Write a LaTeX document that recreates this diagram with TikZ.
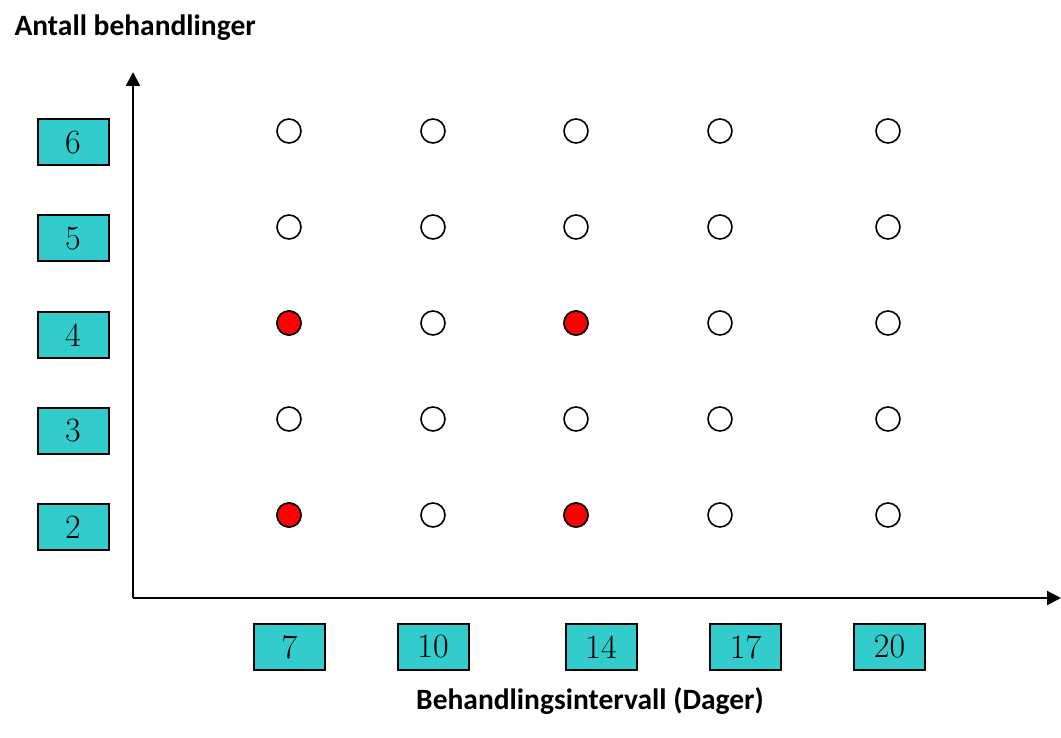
\documentclass[tikz,border=0pt]{standalone}
\usepackage{fontspec}
\setmainfont{Latin Modern Roman}
\newfontfamily\titlefont{Carlito}
\usetikzlibrary{arrows.meta}
\definecolor{boxcyan}{HTML}{33CCCC}
\definecolor{dotred}{HTML}{FF0000}
\begin{document}
\begin{tikzpicture}[x=1pt,y=-1pt,
  valbox/.style={draw=black,line width=2pt,fill=boxcyan,minimum width=71pt,minimum height=46pt,inner sep=0pt,font=\fontsize{34}{40}\selectfont},
  opendot/.style={circle,draw=black,line width=1.6pt,fill=white,minimum size=24pt,inner sep=0pt},
  reddot/.style={opendot,fill=dotred},
  axisline/.style={line width=2pt,-{Triangle[length=14pt,width=14pt]}},
  titletext/.style={font=\titlefont\bfseries\fontsize{29.5}{34}\selectfont}]
\useasboundingbox (0,0) rectangle (1061,738);
\node[titletext,anchor=base west] (ytitle) at (11,36) {Antall behandlinger};
\node[titletext,anchor=base] (xtitle) at (590,709) {Behandlingsintervall (Dager)};
\coordinate (origin) at (133,598);
\coordinate (ytip) at (133,72);
\coordinate (xtip) at (1061,598);
\draw[axisline] (origin) -- (ytip);
\draw[axisline] (origin) -- (xtip);
% y boxes
\node[valbox] (y6) at (73,142.5) {6};
\node[valbox] (y5) at (73,238.5) {5};
\node[valbox] (y4) at (73,335) {4};
\node[valbox] (y3) at (73,431) {3};
\node[valbox] (y2) at (73,527) {2};
% x boxes
\node[valbox] (x7) at (289.5,647) {7};
\node[valbox] (x10) at (433,647) {10};
\node[valbox] (x14) at (601,647) {14};
\node[valbox] (x17) at (745.5,647) {17};
\node[valbox] (x20) at (889.5,647) {20};
% dots
\foreach \r/\yy in {6/131,5/227,4/323,3/419,2/515}{
  \foreach \c/\xx in {7/289,10/433,14/576,17/720,20/888}{
    \node[opendot] (d\c-\r) at (\xx,\yy) {};
  }
}
\node[reddot] (r7-4) at (289,323) {};
\node[reddot] (r14-4) at (576,323) {};
\node[reddot] (r7-2) at (289,515) {};
\node[reddot] (r14-2) at (576,515) {};
\end{tikzpicture}
\end{document}
